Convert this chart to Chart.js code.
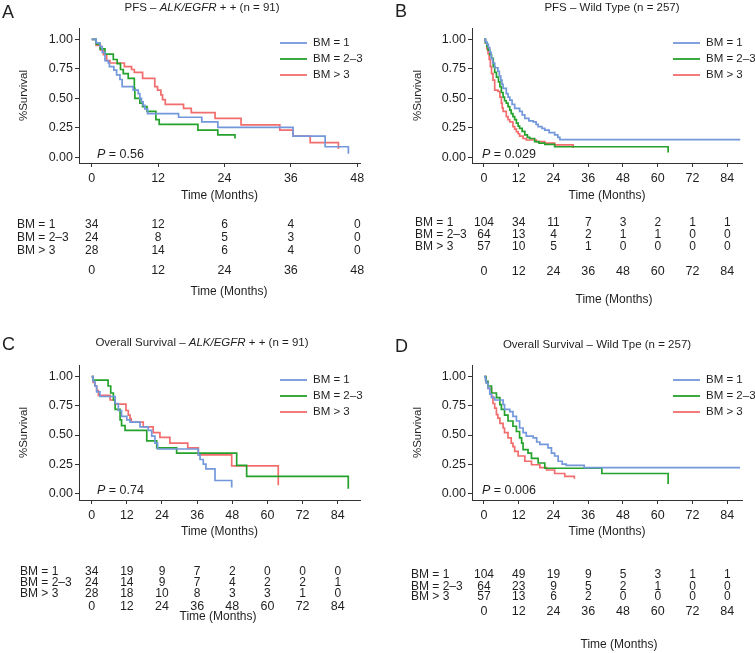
<!DOCTYPE html>
<html>
<head>
<meta charset="utf-8">
<script src="https://cdn.jsdelivr.net/npm/chart.js@4"></script>
<style>
  body { margin: 0; background: #fff; }
  #wrap { position: relative; width: 755px; height: 653px; overflow: hidden; }
  canvas { position: absolute; }
</style>
</head>
<body>
<div id="wrap">
  <canvas id="chartA" width="377" height="320" style="left:0px;top:0px"></canvas>
  <canvas id="chartB" width="378" height="320" style="left:377px;top:0px"></canvas>
  <canvas id="chartC" width="377" height="333" style="left:0px;top:320px"></canvas>
  <canvas id="chartD" width="378" height="333" style="left:377px;top:320px"></canvas>
</div>
<script>
const FONT = '"Liberation Sans", Arial, Helvetica, sans-serif';
const INK = '#1f1f1f';

const groups = ['BM = 1', 'BM = 2–3', 'BM > 3'];
const colors = ['#7398dc', '#25a22c', '#f26d6d'];
const yTicks = [0, 0.25, 0.5, 0.75, 1];
const monthsShort = [0, 12, 24, 36, 48];
const monthsLong = [0, 12, 24, 36, 48, 60, 72, 84];

// Kaplan-Meier curves: [month, survival] at each step
const pfsMutBM1 = [[0,1],[0.8,0.97],[1.5,0.94],[1.9,0.89],[2.4,0.82],[3,0.80],[3.2,0.77],[4,0.74],[4.5,0.70],[5.1,0.66],[5.5,0.60],[7.5,0.57],[8.4,0.54],[8.7,0.50],[9.0,0.47],[9.3,0.44],[9.6,0.41],[10.1,0.37],[15.7,0.34],[19.9,0.30],[22.8,0.255],[36.4,0.18],[42.2,0.09],[46.4,0.03]];
const pfsMutBM23 = [[0,1],[0.8,0.96],[1.5,0.92],[2.4,0.875],[3.9,0.83],[4.6,0.795],[5.2,0.745],[5.7,0.71],[6.6,0.67],[7.7,0.585],[7.8,0.50],[8.7,0.46],[9.2,0.43],[10,0.39],[11.6,0.32],[12.2,0.28],[19.2,0.23],[22.8,0.19],[25.9,0.16]];
const pfsMutBM3 = [[0,1],[0.8,0.95],[1.6,0.91],[2.1,0.87],[2.7,0.82],[3.3,0.80],[5.9,0.77],[7.2,0.745],[7.7,0.72],[9.2,0.67],[11.4,0.60],[11.9,0.57],[12.5,0.53],[12.8,0.49],[13.3,0.45],[16.6,0.415],[18.0,0.38],[22.3,0.33],[27,0.275],[34,0.23],[36.4,0.18],[39.5,0.125],[44.6,0.07]];

const pfsWtBM1 = [[0,1],[0.5,0.98],[1,0.96],[1.5,0.93],[2,0.89],[2.5,0.84],[3,0.80],[3.7,0.76],[4.8,0.73],[5.3,0.69],[5.8,0.655],[6.2,0.62],[6.6,0.585],[7.7,0.54],[8.3,0.51],[8.9,0.485],[9.7,0.45],[10.6,0.415],[12.3,0.39],[13.2,0.36],[14.1,0.33],[15.5,0.31],[17,0.30],[18,0.28],[18.7,0.26],[20,0.245],[21,0.23],[22.5,0.21],[24.4,0.19],[25.5,0.17],[26.2,0.15],[88.5,0.15]];
const pfsWtBM23 = [[0,1],[0.5,0.97],[1,0.94],[1.4,0.91],[2,0.87],[2.6,0.84],[3.2,0.77],[3.7,0.72],[4.3,0.68],[5,0.64],[5.5,0.60],[6,0.55],[6.6,0.51],[7.1,0.48],[7.7,0.46],[8.3,0.43],[8.9,0.40],[9.4,0.37],[10,0.345],[10.6,0.32],[11.2,0.29],[11.8,0.265],[12.3,0.245],[13.2,0.22],[14.1,0.19],[15,0.17],[15.8,0.16],[17.5,0.133],[19,0.12],[21,0.11],[24.4,0.09],[63.6,0.04]];
const pfsWtBM3 = [[0,1],[0.5,0.97],[1,0.92],[1.4,0.88],[1.8,0.83],[2.2,0.77],[2.6,0.71],[3.1,0.655],[3.7,0.57],[4.8,0.56],[5.5,0.51],[6,0.46],[6.3,0.42],[6.6,0.39],[7.7,0.345],[8.3,0.32],[8.9,0.30],[10,0.26],[10.6,0.24],[11.2,0.217],[11.8,0.20],[12.3,0.18],[13.5,0.16],[14.6,0.147],[18.1,0.133],[21,0.12],[24.4,0.105],[30.8,0.08]];

const osMutBM1 = [[0,1],[0.5,0.96],[1.1,0.92],[1.7,0.87],[2.8,0.83],[8,0.77],[9.1,0.71],[10.2,0.66],[12,0.63],[13.1,0.61],[16.5,0.57],[19.3,0.54],[20.5,0.49],[21.6,0.43],[22.5,0.38],[36.4,0.33],[37,0.29],[38.1,0.25],[39,0.21],[42.1,0.11],[47.8,0.05]];
const osMutBM23 = [[0,1],[0.5,0.97],[5.6,0.92],[6.5,0.86],[7.4,0.80],[8,0.72],[9.7,0.63],[10.2,0.58],[11.4,0.54],[18.8,0.45],[22.2,0.39],[29,0.345],[49.5,0.24],[52.9,0.145],[87.6,0.04]];
const osMutBM3 = [[0,1],[0.5,0.95],[1.1,0.92],[1.7,0.88],[2.3,0.84],[6.3,0.80],[8,0.765],[11.7,0.71],[12.5,0.67],[13.1,0.64],[13.5,0.61],[17.6,0.57],[21,0.52],[23.3,0.48],[26.7,0.43],[32.8,0.39],[36.4,0.33],[47.8,0.235],[63.7,0.07]];

const osWtBM1 = [[0,1],[0.5,0.97],[0.8,0.945],[1.4,0.90],[2,0.85],[2.6,0.82],[3.7,0.80],[6.6,0.76],[7.1,0.72],[8.9,0.70],[10,0.66],[11.2,0.62],[12.3,0.56],[13.5,0.52],[14.6,0.49],[17,0.475],[18.2,0.44],[19.3,0.42],[22.1,0.39],[23.3,0.345],[24.4,0.32],[25.6,0.275],[27,0.25],[28.4,0.24],[34.6,0.22],[88.4,0.22]];
const osWtBM23 = [[0,1],[0.7,0.96],[1.4,0.92],[2.6,0.86],[4.3,0.82],[5.5,0.76],[6,0.72],[7.1,0.67],[8.3,0.62],[10,0.575],[11.2,0.53],[12.3,0.475],[13,0.43],[13.5,0.375],[15.2,0.345],[16.4,0.30],[18.7,0.26],[21,0.215],[40.7,0.17],[63.6,0.08]];
const osWtBM3 = [[0,1],[0.7,0.95],[1.4,0.90],[2.6,0.83],[3.1,0.77],[3.7,0.73],[4.3,0.675],[4.8,0.645],[5.5,0.60],[6.6,0.56],[7.1,0.52],[8.3,0.475],[9.4,0.43],[10,0.40],[10.6,0.36],[11.8,0.32],[14.1,0.275],[16.4,0.245],[19.3,0.22],[21.6,0.20],[24.4,0.17],[27.9,0.145],[31.2,0.125]];

// numbers at risk, one row per group
const riskPfsMut = [[34,12,6,4,0],[24,8,5,3,0],[28,14,6,4,0]];
const riskPfsWt = [[104,34,11,7,3,2,1,1],[64,13,4,2,1,1,0,0],[57,10,5,1,0,0,0,0]];
const riskOsMut = [[34,19,9,7,2,0,0,0],[24,14,9,7,4,2,2,1],[28,18,10,8,3,3,1,0]];
const riskOsWt = [[104,49,19,9,5,3,1,1],[64,23,9,5,2,1,0,0],[57,13,6,2,0,0,0,0]];

// titles as [text, italic] pieces
const titleA = [['PFS – ', false], ['ALK/EGFR', true], [' + + (n = 91)', false]];
const titleB = [['PFS – Wild Type (n = 257)', false]];
const titleC = [['Overall Survival – ', false], ['ALK/EGFR', true], [' + + (n = 91)', false]];
const titleD = [['Overall Survival – Wild Tpe (n = 257)', false]];
const pValues = ['0.56', '0.029', '0.74', '0.006'];

Chart.defaults.font.family = FONT;
Chart.defaults.color = INK;

function drawPieces(ctx, pieces, cx, y, size) {
  let widths = pieces.map(p => {
    ctx.font = (p[1] ? 'italic ' : '') + size + 'px ' + FONT;
    return ctx.measureText(p[0]).width;
  });
  let x = cx - widths.reduce((a, b) => a + b, 0) / 2;
  pieces.forEach((p, i) => {
    ctx.font = (p[1] ? 'italic ' : '') + size + 'px ' + FONT;
    ctx.fillText(p[0], x, y);
    x += widths[i];
  });
}

function panelPlugin(p) {
  return {
    id: 'panel' + p.letter,
    afterDraw(chart) {
      const ctx = chart.ctx;
      const xs = chart.scales.x;
      ctx.save();
      ctx.fillStyle = INK;
      ctx.textBaseline = 'middle';
      ctx.textAlign = 'left';

      ctx.font = '18px ' + FONT;
      ctx.fillText(p.letter, p.letterX, p.letterY);

      drawPieces(ctx, p.title, p.titleX, p.titleY, 11.5);

      // p-value
      ctx.textAlign = 'left';
      ctx.font = 'italic 12.5px ' + FONT;
      ctx.fillText('P', p.pX, p.pY);
      const pw = ctx.measureText('P').width;
      ctx.font = '12.5px ' + FONT;
      ctx.fillText(' = ' + p.pValue, p.pX + pw, p.pY);

      // legend
      ctx.font = '11.5px ' + FONT;
      chart.data.datasets.forEach((ds, i) => {
        const y = p.legendY + i * 16;
        ctx.strokeStyle = ds.borderColor;
        ctx.lineWidth = 1.8;
        ctx.beginPath();
        ctx.moveTo(p.legendX, y);
        ctx.lineTo(p.legendX + 27, y);
        ctx.stroke();
        ctx.fillText(ds.label, p.legendX + 33, y);
      });

      // risk table
      ctx.font = '12px ' + FONT;
      p.risk.forEach((row, i) => {
        const y = p.riskY[i];
        ctx.textAlign = 'left';
        ctx.fillText(groups[i], p.riskLabelX, y);
        ctx.textAlign = 'center';
        row.forEach((n, j) => ctx.fillText(String(n), xs.getPixelForValue(p.months[j]), y));
      });
      ctx.font = '12.5px ' + FONT;
      p.months.forEach(m => ctx.fillText(String(m), xs.getPixelForValue(m), p.riskTickY));
      ctx.font = '12px ' + FONT;
      ctx.fillText('Time (Months)', p.riskTitleX, p.riskTitleY);
      ctx.restore();
    }
  };
}

function makeChart(id, curves, p) {
  return new Chart(document.getElementById(id), {
    type: 'line',
    data: {
      datasets: curves.map((c, i) => ({
        label: groups[i],
        data: c.map(pt => ({ x: pt[0], y: pt[1] })),
        borderColor: colors[i],
        borderWidth: 1.7,
        stepped: true,
        pointRadius: 0,
        fill: false
      }))
    },
    options: {
      responsive: false,
      animation: false,
      events: [],
      layout: { padding: p.padding },
      plugins: {
        legend: { display: false },
        tooltip: { enabled: false }
      },
      scales: {
        x: {
          type: 'linear',
          min: p.xMin,
          max: p.xMax,
          afterBuildTicks: s => { s.ticks = p.months.map(v => ({ value: v })); },
          afterFit: s => { s.height = p.xHeight; },
          grid: { drawOnChartArea: false, drawTicks: true, tickLength: 4, color: '#333' },
          border: { display: true, color: '#333', width: 1 },
          ticks: { font: { size: 12.5 }, padding: 4, maxRotation: 0, autoSkip: false, callback: v => String(v) },
          title: { display: true, text: 'Time (Months)', font: { size: 12 }, padding: { top: 0, bottom: 0 } }
        },
        y: {
          min: p.yMin,
          max: p.yMax,
          afterBuildTicks: s => { s.ticks = yTicks.map(v => ({ value: v })); },
          afterFit: s => { s.width = p.yWidth; },
          grid: { drawOnChartArea: false, drawTicks: true, tickLength: 4, color: '#333' },
          border: { display: true, color: '#333', width: 1 },
          ticks: { font: { size: 12.5 }, padding: 2, callback: v => v.toFixed(2) },
          title: { display: true, text: '%Survival', font: { size: 11.5 }, padding: { top: p.yTitlePad, bottom: 0 } }
        }
      }
    },
    plugins: [panelPlugin(p)]
  });
}

makeChart('chartA', [pfsMutBM1, pfsMutBM23, pfsMutBM3], {
  letter: 'A', letterX: 2, letterY: 13, title: titleA, titleX: 202, titleY: 8,
  pValue: pValues[0], pX: 97, pY: 155, legendX: 280, legendY: 43,
  padding: { left: 0, top: 28, right: 17, bottom: 117 }, xHeight: 40, yWidth: 79, yTitlePad: 17,
  xMin: -2.3, xMax: 48.5, yMin: -0.048, yMax: 1.097, months: monthsShort,
  risk: riskPfsMut, riskLabelX: 17, riskY: [225, 238, 251], riskTickY: 271, riskTitleX: 229, riskTitleY: 292
});

makeChart('chartB', [pfsWtBM1, pfsWtBM23, pfsWtBM3], {
  letter: 'B', letterX: 18, letterY: 12, title: titleB, titleX: 235, titleY: 8,
  pValue: pValues[1], pX: 105, pY: 155, legendX: 296, legendY: 43,
  padding: { left: 0, top: 28, right: 13, bottom: 117 }, xHeight: 40, yWidth: 95, yTitlePad: 34,
  xMin: -4.14, xMax: 89.1, yMin: -0.048, yMax: 1.097, months: monthsLong,
  risk: riskPfsWt, riskLabelX: 38, riskY: [223, 235, 247], riskTickY: 272, riskTitleX: 237, riskTitleY: 300
});

makeChart('chartC', [osMutBM1, osMutBM23, osMutBM3], {
  letter: 'C', letterX: 2, letterY: 25, title: titleC, titleX: 202, titleY: 23,
  pValue: pValues[2], pX: 97, pY: 171, legendX: 280, legendY: 60,
  padding: { left: 0, top: 45, right: 17, bottom: 114 }, xHeight: 39, yWidth: 79, yTitlePad: 17,
  xMin: -4.33, xMax: 91.6, yMin: -0.057, yMax: 1.10, months: monthsLong,
  risk: riskOsMut, riskLabelX: 20, riskY: [252, 263, 274], riskTickY: 287, riskTitleX: 218, riskTitleY: 297
});

makeChart('chartD', [osWtBM1, osWtBM23, osWtBM3], {
  letter: 'D', letterX: 18, letterY: 27, title: titleD, titleX: 220, titleY: 25,
  pValue: pValues[3], pX: 105, pY: 171, legendX: 296, legendY: 60,
  padding: { left: 0, top: 45, right: 13, bottom: 114 }, xHeight: 39, yWidth: 95, yTitlePad: 34,
  xMin: -4.14, xMax: 89.1, yMin: -0.057, yMax: 1.10, months: monthsLong,
  risk: riskOsWt, riskLabelX: 34, riskY: [255, 267, 277], riskTickY: 292, riskTitleX: 242, riskTitleY: 325
});
</script>
</body>
</html>
